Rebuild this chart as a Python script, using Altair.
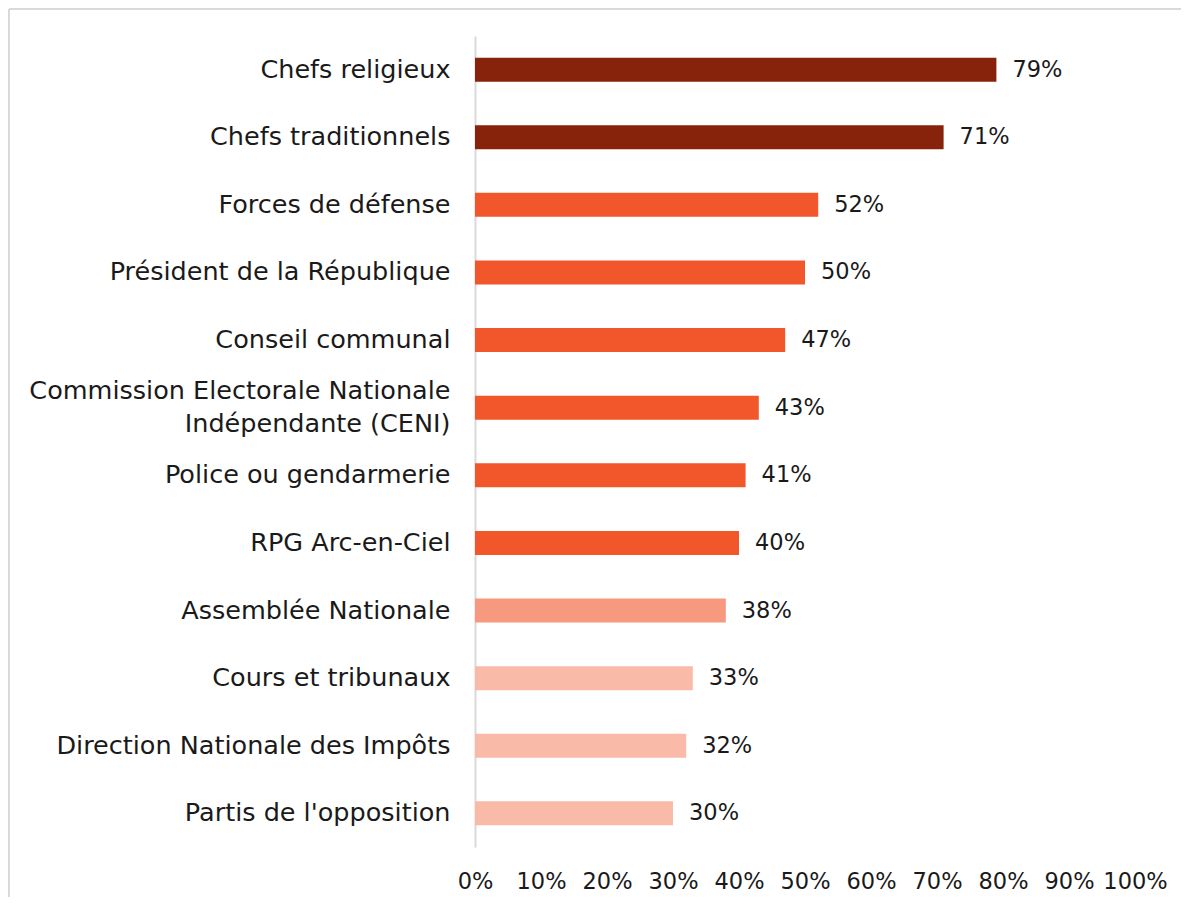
import altair as alt
import pandas as pd

categories = [
    "Chefs religieux",
    "Chefs traditionnels",
    "Forces de défense\u00a0",
    "Président de la République",
    "Conseil communal",
    "Commission Electorale Nationale\nIndépendante (CENI)",
    "Police ou gendarmerie",
    "RPG Arc-en-Ciel",
    "Assemblée Nationale",
    "Cours et tribunaux",
    "Direction Nationale des Impôts",
    "Partis de l'opposition",
]
values = [79, 71, 52, 50, 47, 43, 41, 40, 38, 33, 32, 30]
colors = ["#86230A", "#86230A", "#F2572B", "#F2572B", "#F2572B", "#F2572B",
          "#F2572B", "#F2572B", "#F7997F", "#F9BBA8", "#F9BBA8", "#F9BBA8"]

df = pd.DataFrame({
    "cat": categories,
    "val": [v / 100 for v in values],
    "color": colors,
    "lbl": [f"{v}%" for v in values],
})

FONT = "DejaVu Sans"
FS_Y = 25.5
FS_N = 22.5

y_enc = alt.Y("cat:N", sort=categories, title=None,
              scale=alt.Scale(paddingInner=0.645, paddingOuter=0.32),
              axis=alt.Axis(labelFont=FONT, labelFontSize=FS_Y, labelColor="#1a1a1a",
                            labelPadding=25, ticks=False, domainColor="#D9D9D9",
                            domainWidth=2, labelExpr="split(datum.label, '\\n')",
                            labelLineHeight=33, labelLimit=0,
                            labelOffset=alt.condition("indexof(datum.value, 'CENI') >= 0",
                                                      alt.value(-16.5), alt.value(0))))
x_enc = alt.X("val:Q", title=None,
              scale=alt.Scale(domain=[0, 1], nice=False),
              axis=alt.Axis(format=".0%", values=[i / 10 for i in range(11)],
                            labelFont=FONT, labelFontSize=FS_N, labelColor="#1a1a1a",
                            labelPadding=23, ticks=False, domain=False, grid=False,
                            labelFlush=False))

base = alt.Chart(df)
bars = base.mark_bar().encode(y=y_enc, x=x_enc, color=alt.Color("color:N", scale=None))
text = base.mark_text(align="left", dx=16, font=FONT, fontSize=FS_N, color="#1a1a1a").encode(
    y=alt.Y("cat:N", sort=categories), x="val:Q", text="lbl:N")

one = pd.DataFrame({"a": [0]})
border_left = alt.Chart(one).mark_rule(stroke="#D9D9D9", strokeWidth=2).encode(
    x=alt.value(-466), y=alt.value(-27), y2=alt.value(900))
border_top = alt.Chart(one).mark_rule(stroke="#D9D9D9", strokeWidth=2).encode(
    x=alt.value(-466), x2=alt.value(760), y=alt.value(-27))

chart = alt.layer(border_left, border_top, bars, text).properties(
    width=660, height=811,
    autosize=alt.AutoSizeParams(type="none"),
    padding={"left": 467, "top": 28, "right": 46, "bottom": 50},
).configure_view(stroke=None)

chart.save("out.html", embed_options={"renderer": "svg", "actions": False})
